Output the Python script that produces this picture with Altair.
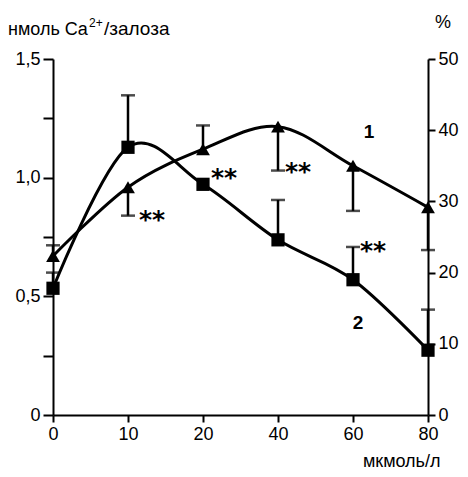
import altair as alt
import pandas as pd

x_labels = ["0", "10", "20", "40", "60", "80"]
ca_values = [0.67, 0.96, 1.12, 1.215, 1.05, 0.875]
ca_err_end = [0.715, 0.84, 1.22, 1.03, 0.86, 0.695]
pct_values = [17.8, 37.6, 32.4, 24.6, 19.0, 9.1]
pct_err_end = [20.0, 44.9, None, 30.2, 23.6, 14.8]

star_x = ["10", "20", "40", "60"]
star_y = [0.847, 1.024, 1.049, 0.716]
star_dx = [24, 21, 20, 20]

curve_labels = ["1", "2"]
curve_label_x = ["60", "60"]
curve_label_y = [1.193, 0.388]
curve_label_dx = [16, 5]

FONT = "Liberation Sans"
W, H = 375, 356

xscale = alt.Scale(type="point", padding=0, domain=x_labels)
xaxis = alt.Axis(
    title="мкмоль/л", labelFontSize=18, labelFont=FONT, labelColor="black",
    titleFont=FONT, titleFontSize=18, titleFontWeight="normal", titleColor="black",
    titleAnchor="end", titleAlign="right", titleBaseline="alphabetic",
    titleX=387, titleY=51, domainColor="black", domainWidth=2,
    tickColor="black", tickWidth=2, tickSize=7, labelPadding=3, grid=False,
    labelAngle=0,
)
X = alt.X("x:O", scale=xscale, axis=xaxis, sort=x_labels)

left_scale = alt.Scale(domain=[0, 1.5], nice=False, zero=True)
left_axis = alt.Axis(
    title="", orient="left", values=[0, 0.25, 0.5, 0.75, 1.0, 1.25, 1.5],
    labelExpr="datum.value == 0 ? '0' : (abs(datum.value * 2 - round(datum.value * 2)) < 0.001 ? replace(format(datum.value, '.1f'), '.', ',') : '')",
    labelFontSize=18, labelFont=FONT, labelColor="black", labelPadding=3,
    domainColor="black", domainWidth=2, tickColor="black", tickWidth=2,
    tickSize=10, grid=False,
)
right_scale = alt.Scale(domain=[0, 50], nice=False, zero=True)
right_axis = alt.Axis(
    title="", orient="right", values=[0, 10, 20, 30, 40, 50],
    labelFontSize=18, labelFont=FONT, labelColor="black", labelPadding=3,
    domainColor="black", domainWidth=2, tickColor="black", tickWidth=2,
    tickSize=7, grid=False,
)

ca_df = pd.DataFrame({"x": x_labels, "v": ca_values, "e": ca_err_end})
pct_df = pd.DataFrame({"x": x_labels, "v": pct_values, "e": pct_err_end}).dropna()
pct_line_df = pd.DataFrame({"x": x_labels, "v": pct_values})

YL = alt.Y("v:Q", scale=left_scale, axis=left_axis)
YR = alt.Y("v:Q", scale=right_scale, axis=right_axis)

# left series (triangles)
l_line = alt.Chart(ca_df).mark_line(color="black", strokeWidth=3, interpolate="cardinal").encode(x=X, y=YL)
l_rule = alt.Chart(ca_df).mark_rule(color="black", strokeWidth=2.5).encode(x=X, y=YL, y2="e:Q")
l_cap = alt.Chart(ca_df).mark_tick(color="black", thickness=2.5, size=14, orient="horizontal").encode(
    x=X, y=alt.Y("e:Q", scale=left_scale, axis=left_axis))
l_pts = alt.Chart(ca_df).mark_point(shape="triangle-up", filled=True, color="black", size=190, opacity=1).encode(x=X, y=YL)

stars_df = pd.DataFrame({"x": star_x, "v": star_y, "dx": star_dx, "t": ["**"] * len(star_x)})
stars = [
    alt.Chart(stars_df.iloc[[i]]).mark_text(
        font="DejaVu Sans", fontSize=25, fontWeight="bold", color="black",
        align="center", baseline="middle", dx=int(star_dx[i]), dy=6,
    ).encode(x=X, y=YL, text="t:N")
    for i in range(len(star_x))
]
labels_df = pd.DataFrame({"x": curve_label_x, "v": curve_label_y, "t": curve_labels})
curve_texts = [
    alt.Chart(labels_df.iloc[[i]]).mark_text(
        font=FONT, fontSize=19, fontWeight="bold", color="black",
        align="center", baseline="middle", dx=curve_label_dx[i],
    ).encode(x=X, y=YL, text="t:N")
    for i in range(len(curve_labels))
]

title_df = pd.DataFrame({"t": ["нмоль Ca", "2+", "/залоза", "%"]})
t1 = alt.Chart(title_df.iloc[[0]]).mark_text(font=FONT, fontSize=18, color="black", align="left", baseline="alphabetic").encode(
    x=alt.value(-45), y=alt.value(-24), text="t:N")
t2 = alt.Chart(title_df.iloc[[1]]).mark_text(font=FONT, fontSize=12, color="black", align="left", baseline="alphabetic").encode(
    x=alt.value(36), y=alt.value(-32), text="t:N")
t3 = alt.Chart(title_df.iloc[[2]]).mark_text(font=FONT, fontSize=19, color="black", align="left", baseline="alphabetic").encode(
    x=alt.value(51), y=alt.value(-24), text="t:N")
t4 = alt.Chart(title_df.iloc[[3]]).mark_text(font=FONT, fontSize=18, color="black", align="center", baseline="alphabetic").encode(
    x=alt.value(W + 15), y=alt.value(-31), text="t:N")

left = alt.layer(l_line, l_rule, l_cap, l_pts, *stars, *curve_texts, t1, t2, t3, t4)

# right series (squares)
r_line = alt.Chart(pct_line_df).mark_line(color="black", strokeWidth=3, interpolate="cardinal").encode(x=X, y=YR)
r_rule = alt.Chart(pct_df).mark_rule(color="black", strokeWidth=2.5).encode(x=X, y=YR, y2="e:Q")
r_cap = alt.Chart(pct_df).mark_tick(color="black", thickness=2.5, size=14, orient="horizontal").encode(
    x=X, y=alt.Y("e:Q", scale=right_scale, axis=right_axis))
r_pts = alt.Chart(pct_line_df).mark_point(shape="square", filled=True, color="black", size=175, opacity=1).encode(x=X, y=YR)

right = alt.layer(r_line, r_rule, r_cap, r_pts)

chart = alt.layer(left, right).resolve_scale(y="independent").properties(
    width=W, height=H,
    autosize=alt.AutoSizeParams(type="none"),
    padding={"left": 45, "top": 51, "right": 32, "bottom": 54},
    background="white",
).configure_view(strokeWidth=0)

chart.save("out.html", embed_options={"renderer": "svg", "actions": False})
